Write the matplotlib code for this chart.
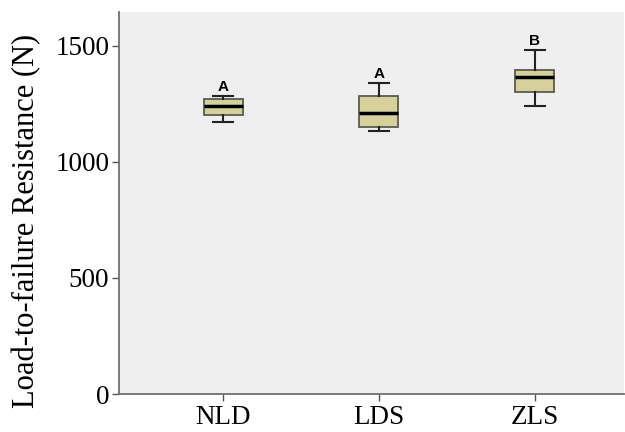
import matplotlib
matplotlib.use("Agg")
import matplotlib.pyplot as plt

categories = ["NLD", "LDS", "ZLS"]
whisker_low = [1171, 1134, 1241]
q1 = [1204, 1149, 1300]
median = [1241, 1210, 1368]
q3 = [1270, 1284, 1395]
whisker_high = [1284, 1339, 1481]
group_letters = ["A", "A", "B"]
yticks = [0, 500, 1000, 1500]

fig = plt.figure(figsize=(6.25, 4.32), dpi=100)
ax = fig.add_axes([119/625, 1 - 394/432, 505/625, 382/432])
ax.set_facecolor("#efefef")

stats = []
for i, c in enumerate(categories):
    stats.append(dict(label=c, whislo=whisker_low[i], q1=q1[i], med=median[i],
                      q3=q3[i], whishi=whisker_high[i], fliers=[]))

positions = list(range(1, len(categories) + 1))
ax.bxp(stats, positions=positions, widths=0.25, patch_artist=True, showfliers=False,
       boxprops=dict(facecolor="#d6d19a", edgecolor="#5a5a52", linewidth=1.3),
       medianprops=dict(color="black", linewidth=2.5),
       whiskerprops=dict(color="#222222", linewidth=1.5),
       capprops=dict(color="#222222", linewidth=1.5),
       capwidths=0.125)

for p, wh, lt in zip(positions, whisker_high, group_letters):
    ax.annotate(lt, xy=(p, wh), xytext=(0, 3.5), textcoords="offset points",
                ha="center", va="baseline", fontsize=11, fontweight="bold",
                family="Liberation Sans")

ax.set_xlim(0.333, 3.571)
ax.set_ylim(0, 1646)
ax.set_yticks(yticks)
ax.set_yticklabels([str(v) for v in yticks], family="Liberation Serif", fontsize=19.5)
ax.set_xticks(positions)
ax.set_xticklabels(categories, family="Liberation Serif", fontsize=19.5)
ax.set_ylabel("Load-to-failure Resistance (N)", family="Liberation Serif", fontsize=22)
ax.yaxis.set_label_coords(-0.155, 0.452)

for s in ["top", "right"]:
    ax.spines[s].set_visible(False)
for s in ["left", "bottom"]:
    ax.spines[s].set_color("#707070")
    ax.spines[s].set_linewidth(1.3)
ax.tick_params(axis="both", direction="out", length=5, width=1.0, color="#555555", pad=2)
ax.tick_params(axis="x", pad=3)

fig.savefig("out.png", dpi=100)
